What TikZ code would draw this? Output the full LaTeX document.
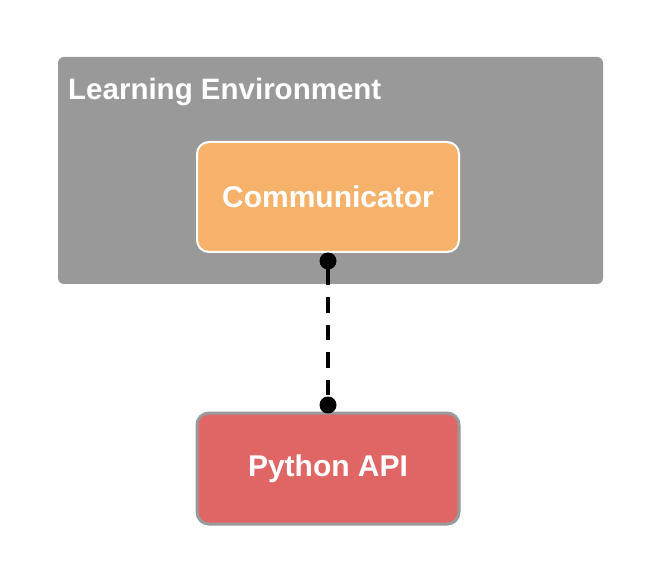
\documentclass[tikz,border=0pt]{standalone}
\usepackage{fontspec}
\setmainfont{Liberation Sans}
\definecolor{envgray}{HTML}{999999}
\definecolor{commorange}{HTML}{F6B26B}
\definecolor{apired}{HTML}{E06666}
\begin{document}
\begin{tikzpicture}[x=1pt,y=1pt,
  envbox/.style={fill=envgray, draw=none, rounded corners=6pt},
  comp/.style={rounded corners=12pt, minimum width=262pt, minimum height=110pt, inner sep=0pt,
    font=\fontsize{30}{33}\selectfont\bfseries, text=white},
  dotend/.style={circle, fill=black, inner sep=0pt, minimum size=17pt}]
\useasboundingbox (0,0) rectangle (661,568);
\fill[white] (0,0) rectangle (661,568);
\node[envbox, minimum width=545pt, minimum height=227pt, inner sep=0pt] (env) at (330.5,397.5) {};
\node[anchor=base west, text=white, font=\fontsize{29.5}{33}\selectfont\bfseries, inner sep=0pt] (envlabel) at (68,468) {Learning Environment};
\node[comp, fill=commorange, draw=white, line width=2pt] (comm) at (328,371) {Communicator};
\node[comp, fill=apired, draw=envgray, line width=3pt, minimum height=111pt] (api) at (328,99.5) {Python API};
\node[dotend] (d1) at (328,307) {};
\node[dotend] (d2) at (328,163) {};
\draw[line width=4.5pt, dash pattern=on 15.5pt off 12pt] (d1.south) -- (d2.north);
\draw[line width=4.5pt] (d1.center) -- (d1.south);
\end{tikzpicture}
\end{document}
